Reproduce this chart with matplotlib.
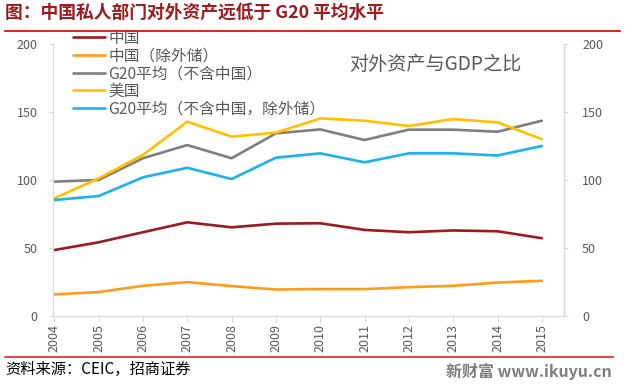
import matplotlib
matplotlib.use("Agg")
import matplotlib.pyplot as plt
from matplotlib.lines import Line2D

plt.rcParams['font.family'] = ['Noto Sans CJK SC', 'DejaVu Sans']

years = [2004, 2005, 2006, 2007, 2008, 2009, 2010, 2011, 2012, 2013, 2014, 2015]
china = [48.5, 54.2, 61.6, 68.9, 65.2, 67.9, 68.2, 63.3, 61.6, 62.9, 62.3, 57.2]
china_ex = [15.9, 17.6, 22.2, 24.9, 22.0, 19.5, 19.8, 19.8, 21.2, 22.2, 24.6, 25.9]
g20 = [98.8, 100.0, 116.0, 125.7, 116.0, 134.3, 137.2, 129.4, 137.0, 137.0, 135.5, 143.6]
usa = [86.5, 101.2, 118.4, 142.9, 131.9, 134.8, 145.3, 143.6, 139.7, 144.8, 142.4, 130.0]
g20_ex = [85.3, 88.2, 102.0, 109.0, 100.7, 116.4, 119.6, 113.0, 119.6, 119.6, 118.0, 125.0]

labels = ['中国', '中国（除外储）', 'G20平均（不含中国）', '美国', 'G20平均（不含中国，除外储）']
colors = ['#9B1B1E', '#FF9A1A', '#7F7F7F', '#FFC000', '#1AB2F0']
series = [china, china_ex, g20, usa, g20_ex]
yticks = [0, 50, 100, 150, 200]

fig = plt.figure(figsize=(6.28, 3.85), dpi=100)
ax = fig.add_axes([53/628, 1-316/385, (564-53)/628, (316-44)/385])

tick_col = '#595959'
spine_col = '#D9D9D9'

for s, c, l in zip(series, colors, labels):
    ax.plot(years, s, color=c, lw=1.9, label=l, solid_capstyle='round', solid_joinstyle='round')

ax.set_xlim(2003.97, 2015.5)
ax.set_ylim(0, 200)
ax.set_xticks(years)
ax.set_xticklabels([str(y) for y in years], rotation=90, fontsize=9, color=tick_col)
ax.set_yticks(yticks)
ax.set_yticklabels([str(v) for v in yticks], fontsize=9, color=tick_col)
ax.tick_params(axis='x', length=4, width=0.8, color=spine_col, pad=2)
ax.tick_params(axis='y', length=3, width=0.8, color=spine_col, pad=8)
ax.spines['top'].set_visible(False)
for sp in ['left', 'right', 'bottom']:
    ax.spines[sp].set_color(spine_col)
    ax.spines[sp].set_linewidth(0.9)

ax2 = ax.twinx()
ax2.set_ylim(0, 200)
ax2.set_yticks(yticks)
ax2.set_yticklabels([str(v) for v in yticks], fontsize=9, color=tick_col)
ax2.tick_params(axis='y', length=3, width=0.8, color=spine_col, pad=10)
ax2.spines['top'].set_visible(False)
ax2.spines['left'].set_visible(False)
ax2.spines['bottom'].set_visible(False)
ax2.spines['right'].set_color(spine_col)
ax2.spines['right'].set_linewidth(0.9)

leg = ax.legend(loc='upper left', bbox_to_anchor=(14/511, 1.075), frameon=False,
                fontsize=11.3, handlelength=2.0, handletextpad=0.25, labelspacing=0.04,
                borderaxespad=0)
for t in leg.get_texts():
    t.set_color(tick_col)

ax.text(0.916, 0.965, '对外资产与GDP之比', transform=ax.transAxes, ha='right', va='top',
        fontsize=13.8, color='#595959')

# title and decorations
fig.text(5/628, 1-13/385, '图：中国私人部门对外资产远低于 G20 平均水平', ha='left', va='center',
         fontsize=12.8, fontweight='bold', color='#9B1B1E')
fig.add_artist(Line2D([5/628, 620/628], [1-31/385, 1-31/385], color='#E01010', lw=1.3,
                      transform=fig.transFigure))
fig.add_artist(Line2D([5/628, 613/628], [1-357/385, 1-357/385], color='#E01010', lw=1.1,
                      transform=fig.transFigure))
fig.text(5/628, 1-369/385, '资料来源：CEIC，招商证券', ha='left', va='center',
         fontsize=11, color='#000000')
fig.text(612/628, 1-371/385, '新财富 www.ikuyu.cn', ha='right', va='center',
         fontsize=11.5, fontweight='bold', color='#7F7F7F')

fig.savefig('out.png', dpi=100)
